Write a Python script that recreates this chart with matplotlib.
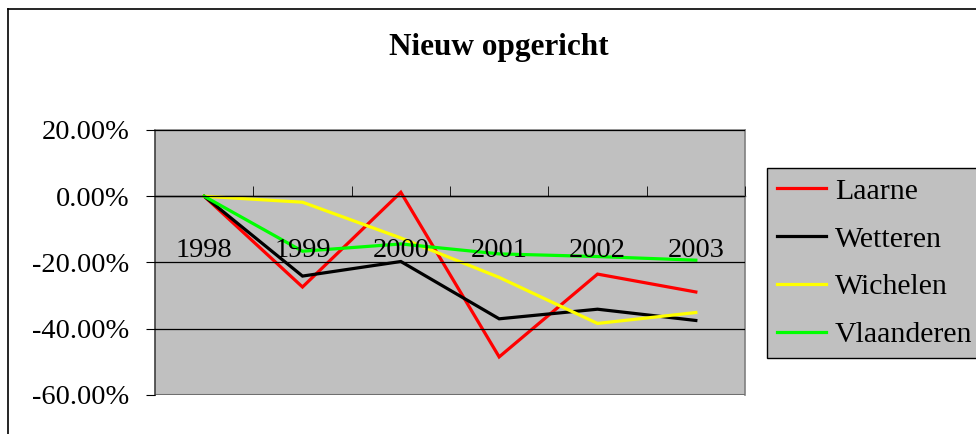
import matplotlib
matplotlib.use("Agg")
import matplotlib.pyplot as plt
from matplotlib.lines import Line2D
from matplotlib.ticker import FuncFormatter, MultipleLocator

years = ["1998", "1999", "2000", "2001", "2002", "2003"]
laarne = [0.0, -27.4, 1.2, -48.5, -23.5, -28.9]
wetteren = [0.0, -24.1, -19.7, -37.0, -34.1, -37.5]
wichelen = [0.0, -1.8, -12.6, -24.5, -38.4, -35.1]
vlaanderen = [0.0, -16.6, -14.4, -17.4, -18.2, -19.3]

series = [("Laarne", laarne, "#FF0000"),
          ("Wetteren", wetteren, "#000000"),
          ("Wichelen", wichelen, "#FFFF00"),
          ("Vlaanderen", vlaanderen, "#00FF00")]

plt.rcParams['font.family'] = ['Liberation Serif', 'DejaVu Serif']
W, H = 976, 434
fig = plt.figure(figsize=(W / 100, H / 100), dpi=100)

def fx(px):
    return px / W

def fy(py):
    return 1 - py / H

ax = fig.add_axes([fx(155), fy(395), fx(745) - fx(155), fy(130) - fy(395)])
ax.set_facecolor("#C0C0C0")

x = list(range(len(years)))
for name, vals, col in series:
    ax.plot(x, vals, color=col, lw=2.3, label=name, solid_joinstyle='miter')

ax.set_xlim(-0.5, len(years) - 0.5)
ax.set_ylim(-60, 20)
ax.yaxis.set_major_locator(MultipleLocator(20))
ax.yaxis.set_major_formatter(FuncFormatter(lambda v, p: f"{v:.2f}%"))
ax.grid(axis='y', color='black', lw=0.9)
ax.set_axisbelow(False)
for sp in ['top', 'right', 'left']:
    ax.spines[sp].set_color('#808080')
    ax.spines[sp].set_linewidth(1.2)
ax.spines['left'].set_color('#404040')
ax.spines['bottom'].set_position(('data', 0))
ax.spines['bottom'].set_color('black')
ax.spines['bottom'].set_linewidth(1.0)
ax.spines['bottom'].set_zorder(1)

ax.set_xticks(x)
ax.set_xticklabels(years)
ax.set_xticks([i + 0.5 for i in range(len(years))], minor=True)
ax.tick_params(axis='x', which='major', length=0, pad=30, labelsize=20.5)
ax.tick_params(axis='x', which='minor', length=7, direction='in', color='black')
ax.tick_params(axis='y', length=6.5, direction='out', labelsize=20.5, pad=12, color='black')

# bottom frame line of plot area
ax.axhline(-60, color='#808080', lw=1.5, zorder=0.5)

fig.text(fx(499), fy(48), "Nieuw opgericht", ha='center', va='center',
         fontsize=22.5, fontweight='bold')

leg = fig.legend(loc='upper left', bbox_to_anchor=(fx(767), fy(168)),
                 fontsize=21.5, frameon=True, fancybox=False,
                 handlelength=1.65, handletextpad=0.3, labelspacing=0.7,
                 borderpad=0.33, borderaxespad=0)
leg.get_frame().set_facecolor("#C0C0C0")
leg.get_frame().set_edgecolor("black")
leg.get_frame().set_linewidth(1.0)
leg.get_frame().set_alpha(1)

fig.add_artist(Line2D([fx(8), fx(8)], [fy(9), 0], color='black', lw=1.2))
fig.add_artist(Line2D([fx(8), 1], [fy(9), fy(9)], color='black', lw=1.2))

fig.savefig("out.png", dpi=100)
